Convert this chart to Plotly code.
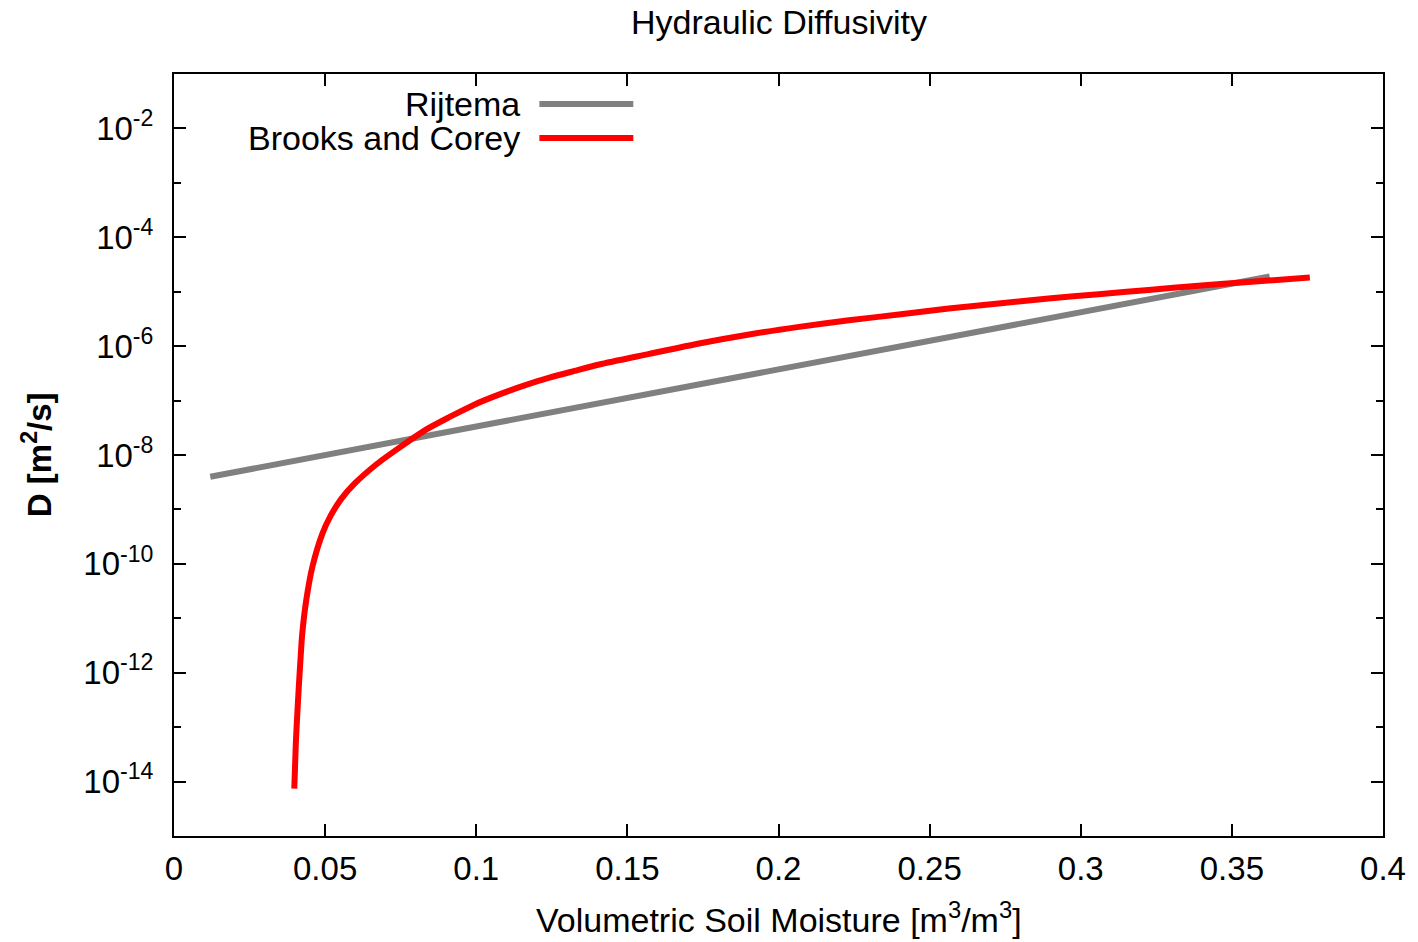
import plotly.graph_objects as go

# Hydraulic diffusivity D(theta) for two soil-water models
rijtema_theta = [0.012, 0.05, 0.10, 0.15, 0.20, 0.25, 0.30, 0.35, 0.3625]
rijtema_d = [3.98e-9, 1.0e-8, 3.3e-8, 1.12e-7, 3.7e-7, 1.26e-6, 4.2e-6, 1.41e-5, 1.9e-5]

brooks_theta = [0.0398, 0.0403, 0.0408, 0.0413, 0.0418, 0.0424, 0.0438, 0.0458,
                0.0491, 0.0518, 0.0554, 0.0598, 0.0669, 0.0747, 0.0835, 0.0912,
                0.0995, 0.1077, 0.1160, 0.1242, 0.1325, 0.1407, 0.1572, 0.1737,
                0.1903, 0.2068, 0.2233, 0.2398, 0.2563, 0.2728, 0.2893, 0.3059,
                0.3224, 0.3389, 0.3554, 0.3758]
brooks_d = [7.4e-15, 5.0e-14, 1.78e-13, 5.6e-13, 1.58e-12, 5.0e-12, 2.24e-11, 8.9e-11,
            3.6e-10, 7.6e-10, 1.58e-9, 3.0e-9, 6.7e-9, 1.38e-8, 2.95e-8, 5.0e-8,
            8.5e-8, 1.30e-7, 1.9e-7, 2.63e-7, 3.5e-7, 4.6e-7, 7.2e-7, 1.12e-6,
            1.64e-6, 2.26e-6, 2.99e-6, 3.8e-6, 4.9e-6, 6.1e-6, 7.5e-6, 9.0e-6,
            1.08e-5, 1.29e-5, 1.51e-5, 1.82e-5]

x_ticks = [0, 0.05, 0.1, 0.15, 0.2, 0.25, 0.3, 0.35, 0.4]
x_tick_text = ["0", "0.05", "0.1", "0.15", "0.2", "0.25", "0.3", "0.35", "0.4"]
y_exponents = [-14, -12, -10, -8, -6, -4, -2]
y_minor_exponents = [-15, -13, -11, -9, -7, -5, -3, -1]

series_names = ["Rijtema", "Brooks and Corey"]
series_colors = ["#808080", "#ff0000"]

FONT = "Liberation Sans, Arial, sans-serif"
FS_TICK = 33
FS_TEXT = 34

fig = go.Figure()
fig.add_trace(go.Scatter(x=rijtema_theta, y=rijtema_d, mode="lines",
                         name=series_names[0],
                         line=dict(color=series_colors[0], width=6)))
fig.add_trace(go.Scatter(x=brooks_theta, y=brooks_d, mode="lines",
                         name=series_names[1],
                         line=dict(color=series_colors[1], width=6,
                                   shape="spline", smoothing=0.7)))

axis_common = dict(showline=True, linecolor="black", linewidth=2, mirror="allticks",
                   ticks="inside", ticklen=12, tickwidth=1.5, tickcolor="black",
                   showgrid=False, zeroline=False,
                   tickfont=dict(family=FONT, size=FS_TICK, color="black"))

fig.update_xaxes(range=[0, 0.4], tickvals=x_ticks, ticktext=x_tick_text,
                 ticklabelstandoff=2, **axis_common)
fig.update_yaxes(type="log", range=[-15, -1],
                 tickvals=[10.0 ** e for e in y_exponents],
                 ticktext=[f"10<sup>{e}</sup>" for e in y_exponents],
                 minor=dict(tickvals=[10.0 ** e for e in y_minor_exponents],
                            ticks="inside", ticklen=7, tickwidth=1.5, tickcolor="black"),
                 ticklabelstandoff=12, **axis_common)

# legend drawn gnuplot-style: right-aligned labels followed by line samples
legend_rows = [0.9606, 0.9160]
for name, color, yy in zip(series_names, series_colors, legend_rows):
    fig.add_annotation(x=0.2874, y=yy, xref="paper", yref="paper", text=name,
                       showarrow=False, xanchor="right", yanchor="middle",
                       borderpad=0,
                       font=dict(family=FONT, size=FS_TEXT, color="black"))
    fig.add_shape(type="line", xref="paper", yref="paper", x0=0.3022, x1=0.3799,
                  y0=yy, y1=yy, line=dict(color=color, width=6))

fig.add_annotation(x=0.5, y=1.0682, xref="paper", yref="paper",
                   text="Hydraulic Diffusivity", showarrow=False,
                   xanchor="center", yanchor="middle",
                   font=dict(family=FONT, size=FS_TEXT, color="black"))
fig.add_annotation(x=0.5, y=-0.1076, xref="paper", yref="paper",
                   text="Volumetric Soil Moisture [m<sup>3</sup>/m<sup>3</sup>]",
                   showarrow=False, xanchor="center", yanchor="middle",
                   font=dict(family=FONT, size=FS_TEXT, color="black"))
fig.add_annotation(x=-0.1132, y=0.5, xref="paper", yref="paper",
                   text="<b>D [m<sup>2</sup>/s]</b>", textangle=-90,
                   showarrow=False, xanchor="center", yanchor="middle",
                   font=dict(family=FONT, size=33, color="black"))

fig.update_layout(width=1418, height=942, showlegend=False,
                  margin=dict(l=174, r=33, t=74, b=106),
                  paper_bgcolor="white", plot_bgcolor="white",
                  font=dict(family=FONT, size=FS_TEXT, color="black"))

fig.write_html("out.html")
